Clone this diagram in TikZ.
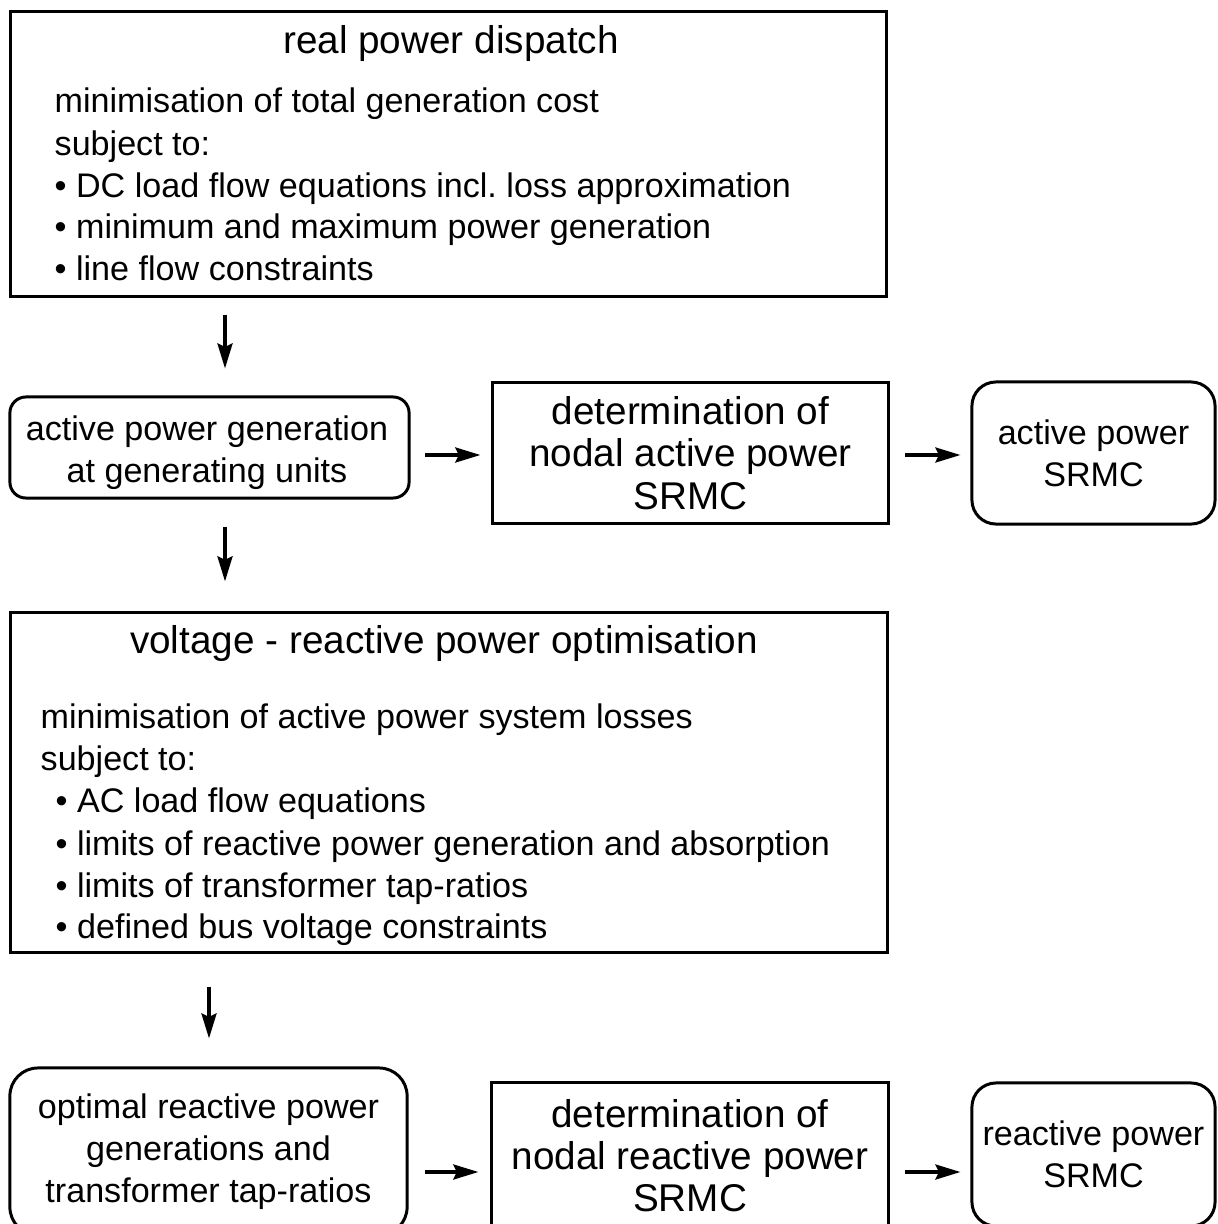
\documentclass[tikz,border=0pt]{standalone}
\usepackage{fontspec}
\setmainfont{Liberation Sans}
\usetikzlibrary{arrows.meta}

\begin{document}
\begin{tikzpicture}[x=0.01cm, y=-0.01cm,
  box/.style={draw, line width=0.85pt, inner sep=0pt, align=center,
    font=\fontsize{9.7}{12}\selectfont},
  bigbox/.style={box, font=\fontsize{11}{12}\selectfont},
  rbox/.style={box, rounded corners=#1},
  label/.style={inner sep=0pt, align=center, font=\fontsize{9.7}{12}\selectfont},
  body/.style={font=\fontsize{9.7}{12}\selectfont, inner sep=0pt, anchor=base west},
  head/.style={font=\fontsize{11}{12}\selectfont, inner sep=0pt, anchor=base},
  arr/.style={line width=0.95pt, -{Stealth[length=0.25cm, width=0.15cm, inset=0.035cm]}},
]
\useasboundingbox (0,0) rectangle (1217,1224);
\clip (0,0) rectangle (1217,1224);

% real power dispatch
\node[box, minimum width=8.75cm, minimum height=2.84cm] (rpd) at (448.5,154) {};
\node[head] (rpdT) at (451,53) {real power dispatch};
\node[body] (rpd1) at (54,112) {minimisation of total generation cost};
\node[body] (rpd2) at (54,155) {subject to:};
\node[body] (rpd3) at (54,197) {\textbullet{} DC load flow equations incl.\ loss approximation};
\node[body] (rpd4) at (54,238) {\textbullet{} minimum and maximum power generation};
\node[body] (rpd5) at (54,280) {\textbullet{} line flow constraints};

% active power row
\node[rbox=0.16cm, minimum width=3.99cm, minimum height=1.01cm] (apg) at (209.5,447.5) {};
\node[label] (apgT) at (207,453) {active power generation\\at generating units};
\node[bigbox, minimum width=3.95cm, minimum height=1.40cm] (nap) at (690.5,453)
  {determination of\\nodal active power\\SRMC};
\node[rbox=0.24cm, minimum width=2.43cm, minimum height=1.42cm] (aps) at (1093.5,453)
  {active power\\SRMC};

% voltage - reactive power optimisation
\node[box, minimum width=8.76cm, minimum height=3.39cm] (vqo) at (449,782.5) {};
\node[head] (vqoT) at (444,653) {voltage - reactive power optimisation};
\node[body] (vqo1) at (40,728) {minimisation of active power system losses};
\node[body] (vqo2) at (40,770) {subject to:};
\node[body] (vqo3) at (55,812) {\textbullet{} AC load flow equations};
\node[body] (vqo4) at (55,855) {\textbullet{} limits of reactive power generation and absorption};
\node[body] (vqo5) at (55,897) {\textbullet{} limits of transformer tap-ratios};
\node[body] (vqo6) at (55,938) {\textbullet{} defined bus voltage constraints};

% reactive power row
\node[rbox=0.28cm, minimum width=3.97cm, minimum height=1.67cm] (orp) at (208.5,1151.5)
  {optimal reactive power\\generations and\\transformer tap-ratios};
\node[bigbox, minimum width=3.96cm, minimum height=1.45cm] (nrp) at (690,1155.5)
  {determination of\\nodal reactive power\\SRMC};
\node[rbox=0.24cm, minimum width=2.43cm, minimum height=1.43cm] (rps) at (1093.5,1154.5)
  {reactive power\\SRMC};

% connectors
\coordinate (vx1) at (225,0);
\coordinate (vx2) at (209,0);
\coordinate (hy1) at (0,455);
\coordinate (hy2) at (0,1172);
\draw[arr, shorten <=0.17cm, shorten >=0.27cm] (rpd.south -| vx1) -- (apg.north -| vx1);
\draw[arr, shorten <=0.27cm, shorten >=0.30cm] (apg.south -| vx1) -- (vqo.north -| vx1);
\draw[arr, shorten <=0.33cm, shorten >=0.28cm] (vqo.south -| vx2) -- (orp.north -| vx2);
\draw[arr, shorten <=0.14cm, shorten >=0.11cm] (apg.east |- hy1) -- (nap.west |- hy1);
\draw[arr, shorten <=0.15cm, shorten >=0.10cm] (nap.east |- hy1) -- (aps.west |- hy1);
\draw[arr, shorten <=0.16cm, shorten >=0.12cm] (orp.east |- hy2) -- (nrp.west |- hy2);
\draw[arr, shorten <=0.15cm, shorten >=0.10cm] (nrp.east |- hy2) -- (rps.west |- hy2);
\end{tikzpicture}
\end{document}
